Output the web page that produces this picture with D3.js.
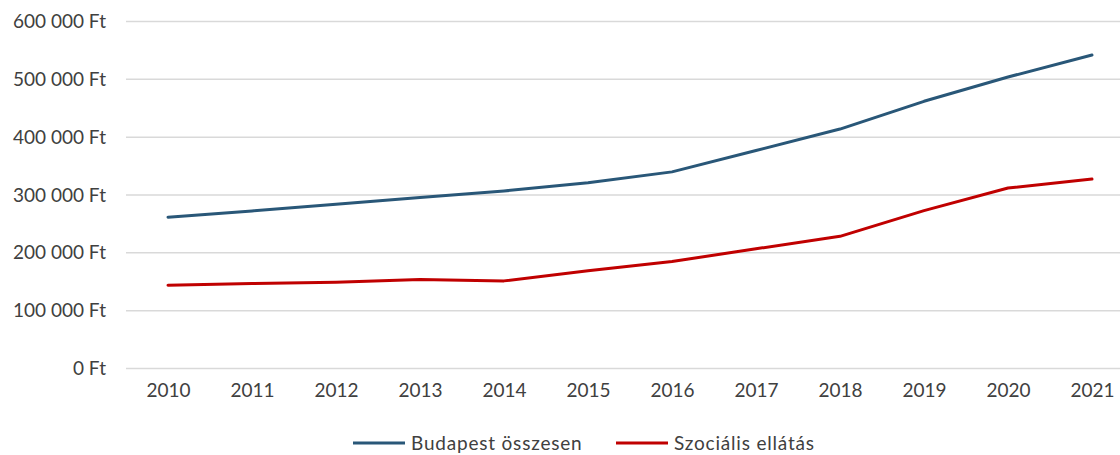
<!DOCTYPE html>
<html>
<head>
<meta charset="utf-8">
<script src="https://cdn.jsdelivr.net/npm/d3@7"></script>
<style>
  html, body { margin: 0; padding: 0; background: #fff; }
  svg { display: block; font-family: Lato, "Noto Sans", sans-serif; }
</style>
</head>
<body>
<svg id="chart" width="1120" height="455"></svg>
<script>
// Annual averages, 2010–2021 (Ft)
const years = ["2010","2011","2012","2013","2014","2015","2016","2017","2018","2019","2020","2021"];
const budapestTotal = [261600, 272500, 284000, 295500, 307000, 321000, 340000, 377000, 414000, 462000, 504000, 542000];
const socialCare    = [144000, 147000, 149000, 154000, 151500, 169000, 185000, 207000, 228500, 273000, 312000, 327500];
const yTicks = [0, 100000, 200000, 300000, 400000, 500000, 600000];
const seriesNames = ["Budapest összesen", "Szociális ellátás"];
const seriesColors = ["#295778", "#c00000"];

const svg = d3.select("#chart");
const W = 1120, H = 455;
const plot = { left: 126, right: 1134, top: 21.5, bottom: 368.5 };
const textColor = "#404040";
const fontSize = 19;

const x = d3.scalePoint().domain(years).range([plot.left, plot.right]).padding(0.5);
const y = d3.scaleLinear().domain([0, 600000]).range([plot.bottom, plot.top]);

const fmt = v => d3.format(",")(v).replace(/,/g, "\u00a0") + " Ft";

// Horizontal gridlines
svg.append("g")
  .selectAll("line")
  .data(yTicks)
  .join("line")
  .attr("x1", plot.left).attr("x2", W)
  .attr("y1", d => y(d)).attr("y2", d => y(d))
  .attr("stroke", "#d9d9d9").attr("stroke-width", 1.5);

// Y axis labels
const yAxis = svg.append("g")
  .attr("transform", `translate(106,0)`)
  .call(d3.axisLeft(y).tickValues(yTicks).tickFormat(fmt).tickSize(0).tickPadding(0));
yAxis.select(".domain").remove();
yAxis.selectAll("text")
  .attr("fill", textColor).attr("font-size", fontSize).attr("font-family", "Lato, sans-serif");

// X axis labels
const xAxis = svg.append("g")
  .attr("transform", `translate(0,${plot.bottom + 15})`)
  .call(d3.axisBottom(x).tickSize(0).tickPadding(0));
xAxis.select(".domain").remove();
xAxis.selectAll("text")
  .attr("fill", textColor).attr("font-size", fontSize).attr("font-family", "Lato, sans-serif");

// Lines
const line = d3.line().x((d, i) => x(years[i])).y(d => y(d));
[budapestTotal, socialCare].forEach((vals, k) => {
  svg.append("path")
    .datum(vals)
    .attr("d", line)
    .attr("fill", "none")
    .attr("stroke", seriesColors[k])
    .attr("stroke-width", 3)
    .attr("stroke-linejoin", "round")
    .attr("stroke-linecap", "round");
});

// Legend
const legendItems = [
  { name: seriesNames[0], color: seriesColors[0], x: 353 },
  { name: seriesNames[1], color: seriesColors[1], x: 616 }
];
const legend = svg.append("g").attr("transform", "translate(0,443)");
legendItems.forEach(it => {
  legend.append("line")
    .attr("x1", it.x).attr("x2", it.x + 52)
    .attr("y1", 0).attr("y2", 0)
    .attr("stroke", it.color).attr("stroke-width", 3);
  legend.append("text")
    .attr("x", it.x + 58).attr("y", 0)
    .attr("dy", "0.35em")
    .attr("fill", textColor).attr("font-size", fontSize)
    .attr("letter-spacing", 0.8)
    .text(it.name);
});
</script>
</body>
</html>
